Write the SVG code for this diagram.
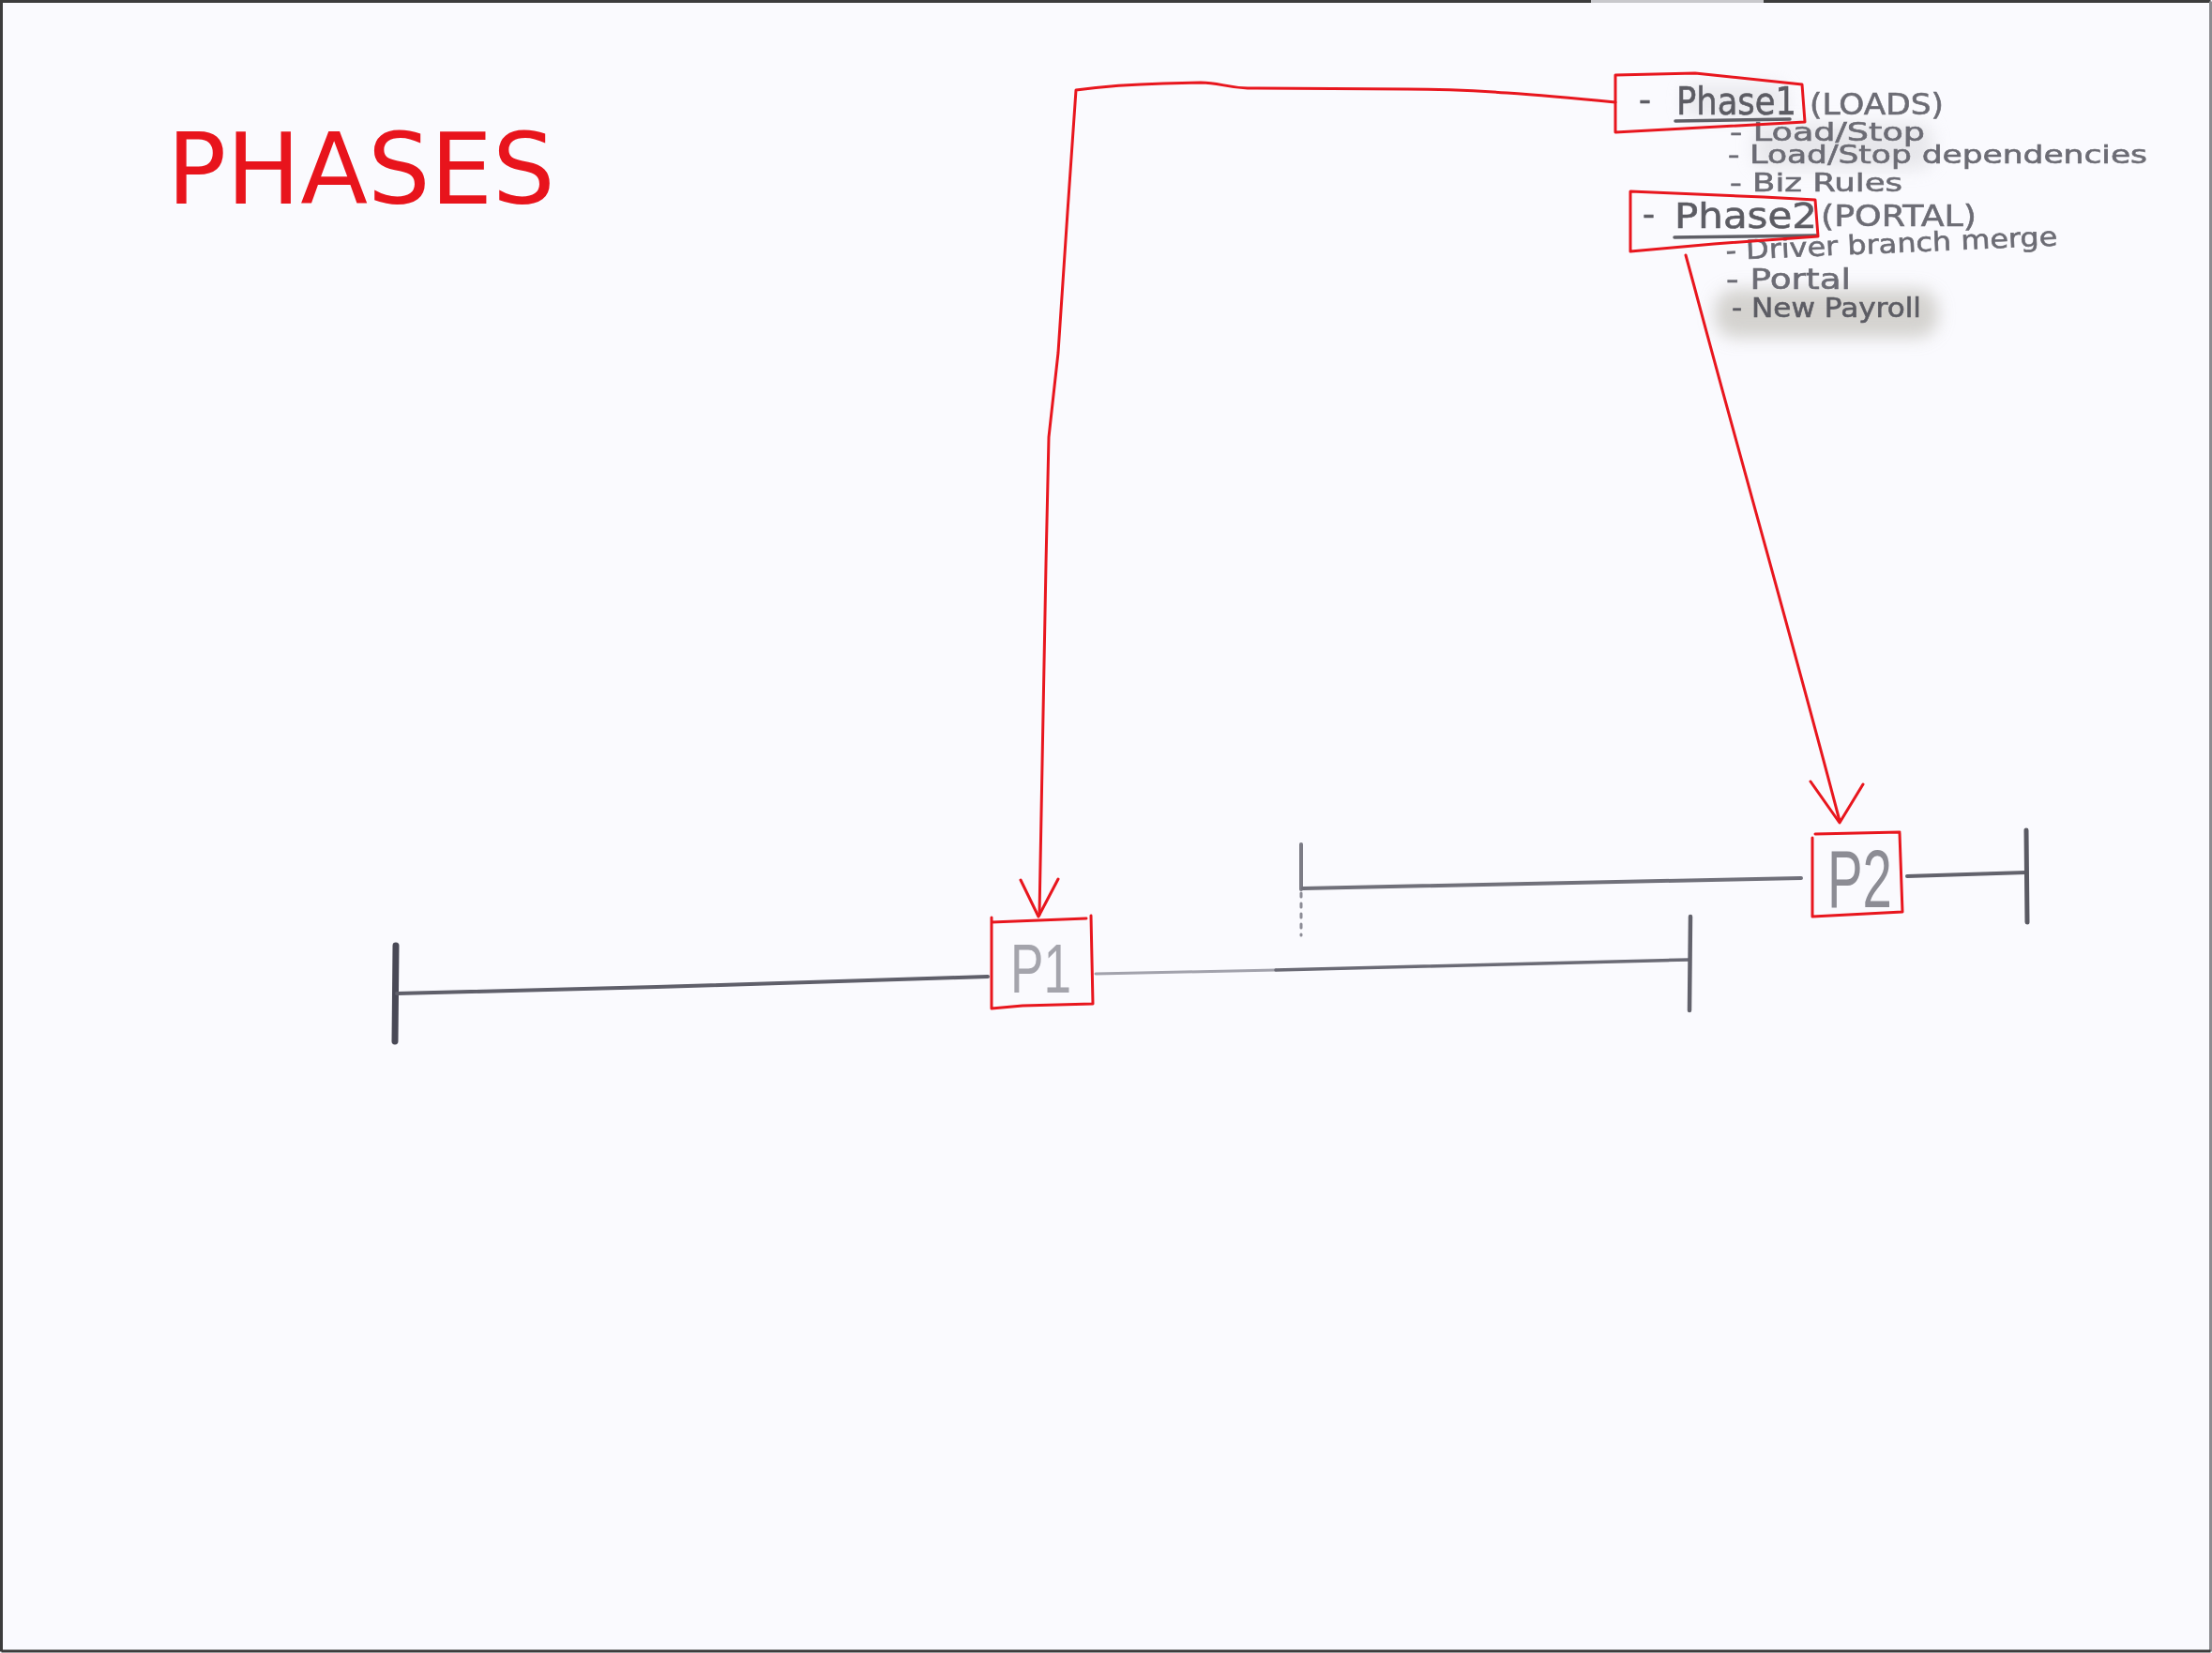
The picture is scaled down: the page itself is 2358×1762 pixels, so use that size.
<svg xmlns="http://www.w3.org/2000/svg" width="2358" height="1762" viewBox="0 0 2358 1762">
<style>
.red{fill:none;stroke:#e8161e;stroke-width:3;stroke-linecap:round;stroke-linejoin:round}
.hw{font-family:"DejaVu Sans","Liberation Sans",sans-serif;fill:#6c6c74;stroke:#6c6c74;stroke-width:0.6}
.hd{fill:#5c5c64;stroke:#5c5c64}
.ul{fill:none;stroke:#5e5e66;stroke-width:3.5;stroke-linecap:round}
.tl{fill:none;stroke-linecap:round;stroke-linejoin:round}
.pl{font-family:"Liberation Sans","DejaVu Sans",sans-serif}
</style>
<defs>
<filter id="blur" x="-20%" y="-40%" width="140%" height="180%"><feGaussianBlur stdDeviation="9"/></filter>
<filter id="soft"><feGaussianBlur stdDeviation="0.6"/></filter>
</defs>
<rect x="0" y="0" width="2358" height="1762" fill="#fafafe"/>
<path d="M1.5,1760.5 L1.5,1.5 L1696,1.5" fill="none" stroke="#3c3c3c" stroke-width="3"/>
<path d="M1696,1.5 L1880,1.5" fill="none" stroke="#c8c8cc" stroke-width="3"/>
<path d="M1880,1.5 L2356.5,1.5" fill="none" stroke="#3c3c3c" stroke-width="3"/>
<path d="M2356.5,1.5 L2356.5,1760.5" fill="none" stroke="#8c8c90" stroke-width="3"/>
<path d="M1.5,1760 L2356.5,1760" fill="none" stroke="#3c3c3c" stroke-width="3"/>

<g id="title">
<text x="178" y="217" font-family="DejaVu Sans, Verdana, sans-serif" font-size="105" fill="#e8141c">PHASES</text>
</g>

<g id="phase-notes">
<rect x="1828" y="308" width="238" height="52" rx="22" fill="#c4c2bc" opacity="0.7" filter="url(#blur)"/>
<rect x="1870" y="132" width="190" height="48" rx="14" fill="#d8d8dc" opacity="0.55" filter="url(#blur)"/>
<rect x="1795" y="90" width="110" height="36" rx="12" fill="#dcdce0" opacity="0.55" filter="url(#blur)"/>
<g filter="url(#soft)">
<text class="hw hd" x="1747" y="118" font-size="36">-</text>
<text class="hw hd" x="1787" y="122" font-size="40" textLength="128" lengthAdjust="spacingAndGlyphs">Phase1</text>
<path class="ul" d="M1786,129 L1908,127"/>
<text class="hw" x="1929" y="122" font-size="32" textLength="143" lengthAdjust="spacingAndGlyphs">(LOADS)</text>
<text class="hw" x="1844" y="150" font-size="26" textLength="208" lengthAdjust="spacingAndGlyphs">- Load/Stop</text>
<text class="hw" x="1842" y="174" font-size="26" textLength="447" lengthAdjust="spacingAndGlyphs">- Load/Stop dependencies</text>
<text class="hw" x="1844" y="204" font-size="27" textLength="184" lengthAdjust="spacingAndGlyphs">- Biz Rules</text>
<text class="hw hd" x="1751" y="240" font-size="36">-</text>
<text class="hw hd" x="1785" y="243" font-size="38" textLength="152" lengthAdjust="spacingAndGlyphs">Phase2</text>
<path class="ul" d="M1785,253 L1936,251"/>
<text class="hw" x="1941" y="241" font-size="32" textLength="166" lengthAdjust="spacingAndGlyphs">(PORTAL)</text>
<text class="hw" x="1840" y="277" font-size="28" textLength="354" lengthAdjust="spacingAndGlyphs" transform="rotate(-2.5 1840 277)">- Driver branch merge</text>
<text class="hw" x="1840" y="308" font-size="30" textLength="133" lengthAdjust="spacingAndGlyphs">- Portal</text>
<text class="hw hd" x="1846" y="338" font-size="28" textLength="202" lengthAdjust="spacingAndGlyphs">- New Payroll</text>
</g>
<path id="phase1-box" class="red" d="M1722,80 L1807,78 L1921,90 L1924,130 L1722,141 Z"/>
<path id="phase2-box" class="red" d="M1738,204 L1880,210 L1935,213 L1938,252 L1827,260 L1738,268 Z"/>
</g>

<g id="timeline-1" filter="url(#soft)">
<path class="tl" d="M422,1008 L421,1110" stroke="#4a4a56" stroke-width="7"/>
<path class="tl" d="M423,1059 L700,1052 L1053,1041" stroke="#5e5e6a" stroke-width="4"/>
<path class="tl" d="M1168,1038 L1360,1034" stroke="#a2a2ac" stroke-width="3"/>
<path class="tl" d="M1360,1034 L1801,1023" stroke="#6a6a74" stroke-width="3.5"/>
<path class="tl" d="M1802,977 L1801,1077" stroke="#62626c" stroke-width="4.5"/>
</g>

<g id="timeline-2" filter="url(#soft)">
<path class="tl" d="M1387,900 L1387,948" stroke="#7c7c86" stroke-width="4"/>
<path class="tl" d="M1387,952 L1387,997" stroke="#8c8c96" stroke-width="3" stroke-dasharray="4 7"/>
<path class="tl" d="M1389,947 L1920,936" stroke="#70707a" stroke-width="4"/>
<path class="tl" d="M2033,934 L2160,930" stroke="#62626c" stroke-width="4"/>
<path class="tl" d="M2160,885 L2161,983" stroke="#5a5a64" stroke-width="5"/>
</g>

<g id="p1">
<path class="red" d="M1057,978 L1057,1075 L1090,1072 L1165,1070 L1163,976 M1057,983 L1158,979"/>
<text class="pl" x="1077" y="1058" font-size="74" fill="#a4a4ac" textLength="65" lengthAdjust="spacingAndGlyphs" filter="url(#soft)">P1</text>
</g>

<g id="p2">
<path class="red" d="M1935,889 L2025,887 M1932,893 L1932,977 L2028,972 L2025,888"/>
<text class="pl" x="1948" y="967" font-size="88" fill="#8c8c94" textLength="69" lengthAdjust="spacingAndGlyphs" filter="url(#soft)">P2</text>
</g>

<g id="connectors">
<path class="red" d="M1722,109 C1640,101 1570,95 1500,95 L1330,94 C1305,93 1300,88 1280,88 L1240,89 C1200,90 1170,93 1147,96 L1138,226 L1128,376 L1118,466 L1115,601 L1108,975"/>
<path class="red" d="M1088,938 L1107,977 L1128,937"/>
<path class="red" d="M1797,272 L1806,305 C1850,470 1910,680 1961,875"/>
<path class="red" d="M1930,833 L1961,877 L1986,836"/>
</g>
</svg>
